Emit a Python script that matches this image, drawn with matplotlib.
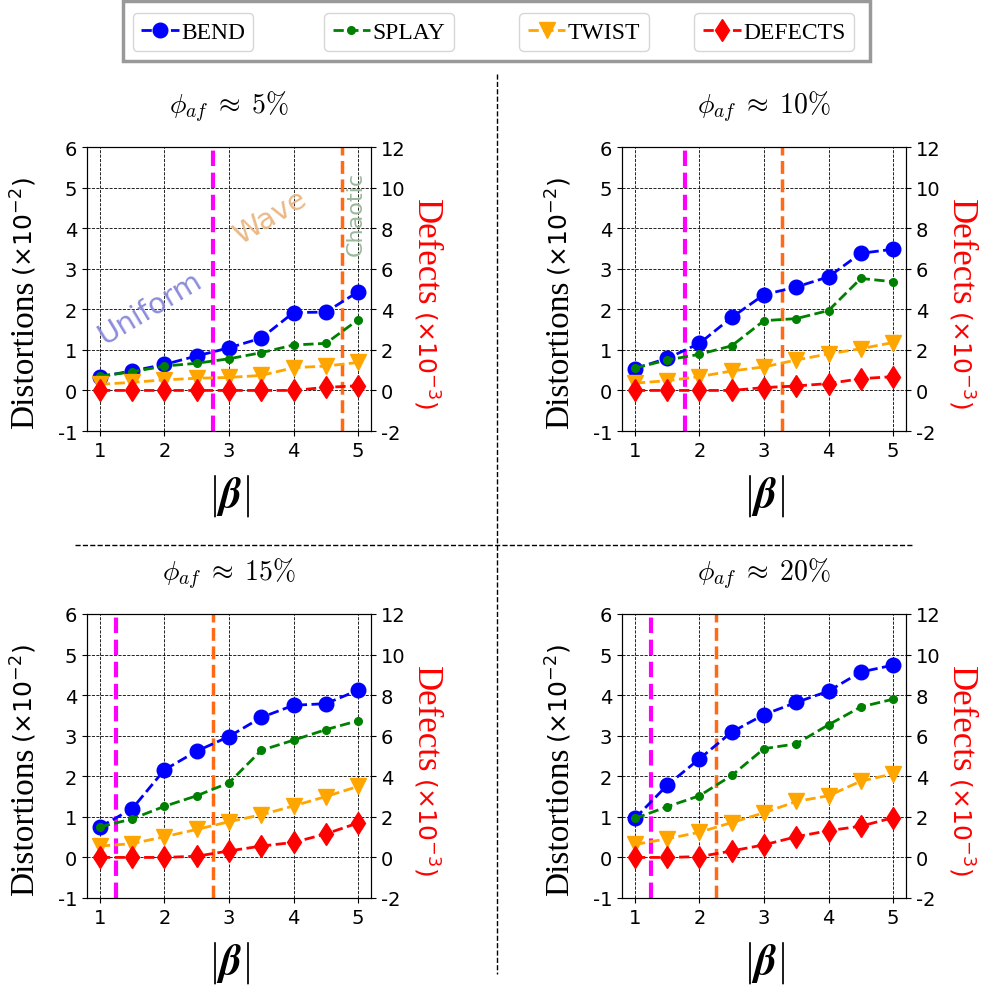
import matplotlib
matplotlib.use('Agg')
import matplotlib.pyplot as plt
from matplotlib.lines import Line2D
from matplotlib.patches import Rectangle

# |beta| values
beta = [1, 1.5, 2, 2.5, 3, 3.5, 4, 4.5, 5]

titles = [r'$\phi_{af}\;\approx\;5\%$', r'$\phi_{af}\;\approx\;10\%$',
          r'$\phi_{af}\;\approx\;15\%$', r'$\phi_{af}\;\approx\;20\%$']

# distortions (x10^-2)
bend = [
    [0.34, 0.48, 0.64, 0.85, 1.05, 1.29, 1.92, 1.93, 2.43],
    [0.54, 0.79, 1.16, 1.80, 2.36, 2.55, 2.80, 3.38, 3.48],
    [0.75, 1.20, 2.16, 2.62, 2.98, 3.45, 3.75, 3.79, 4.12],
    [0.96, 1.78, 2.43, 3.09, 3.52, 3.82, 4.10, 4.57, 4.74],
]
splay = [
    [0.35, 0.46, 0.60, 0.67, 0.78, 0.93, 1.12, 1.16, 1.74],
    [0.55, 0.75, 0.89, 1.10, 1.72, 1.77, 1.97, 2.76, 2.68],
    [0.75, 0.95, 1.26, 1.52, 1.84, 2.64, 2.89, 3.15, 3.37],
    [0.96, 1.25, 1.52, 2.02, 2.68, 2.80, 3.27, 3.71, 3.90],
]
twist = [
    [0.15, 0.20, 0.26, 0.30, 0.32, 0.37, 0.56, 0.60, 0.69],
    [0.18, 0.24, 0.34, 0.48, 0.58, 0.75, 0.90, 1.03, 1.18],
    [0.28, 0.34, 0.51, 0.69, 0.88, 1.05, 1.27, 1.50, 1.75],
    [0.32, 0.46, 0.62, 0.86, 1.10, 1.38, 1.52, 1.88, 2.06],
]
# defects (x10^-3), right axis
defects = [
    [0, 0, 0, 0, 0, 0, 0, 0.15, 0.23],
    [0, 0, 0, 0, 0.14, 0.22, 0.34, 0.58, 0.68],
    [0, 0, 0, 0.06, 0.32, 0.56, 0.74, 1.16, 1.70],
    [0, 0, 0.04, 0.32, 0.62, 1.02, 1.32, 1.54, 1.96],
]

# regime boundaries
uniform_wave = [2.75, 1.78, 1.25, 1.25]
wave_chaotic = [4.75, 3.28, 2.75, 2.25]

W, H = 982, 987
fig = plt.figure(figsize=(W / 100, H / 100), dpi=100)

serif = 'Liberation Serif'
aw, ah = 284 / W, 284 / H
positions = [(87 / W, 1 - 432 / H), (622 / W, 1 - 432 / H),
             (87 / W, 1 - 899 / H), (622 / W, 1 - 899 / H)]

label_pairs = []
for i, (x0, y0) in enumerate(positions):
    ax = fig.add_axes([x0, y0, aw, ah])
    ax.set_axisbelow(True)
    ax.grid(True, linestyle='--', color='k', linewidth=0.6)
    ax.plot(beta, bend[i], '--o', color='blue', ms=10.5, lw=2, zorder=3)
    ax.plot(beta, splay[i], '--o', color='green', ms=5.5, lw=2, zorder=3)
    ax.plot(beta, twist[i], '--v', color='orange', ms=11, lw=2, zorder=3)
    ax.axvline(uniform_wave[i], color='magenta', ls='--', lw=3, zorder=2)
    ax.axvline(wave_chaotic[i], color='#ff6a13', ls='--', lw=2.5, zorder=2)
    ax.set_xlim(0.8, 5.2)
    ax.set_ylim(-1, 6)
    ax.set_xticks([1, 2, 3, 4, 5])
    ax.set_yticks(range(-1, 7))
    ax.set_yticklabels([str(v) for v in range(-1, 7)])
    ax.tick_params(labelsize=14)
    ax.set_title(titles[i], fontsize=20, pad=24, math_fontfamily='cm')
    ax.set_xlabel(r'$|\boldsymbol{\beta}|$', fontsize=31, math_fontfamily='cm',
                  labelpad=9)

    # left label: serif word + sans exponent part, sharing a baseline
    l1 = ax.text(-0.19, 0.012, 'Distortions', rotation=90, rotation_mode='anchor',
                 ha='left', va='baseline', transform=ax.transAxes,
                 family=serif, fontsize=24)
    l2 = ax.text(-0.19, 0.6, r'$(\times10^{-2})$', rotation=90,
                 rotation_mode='anchor', ha='left', va='baseline',
                 transform=ax.transAxes, fontsize=18)

    ax2 = ax.twinx()
    ax2.plot(beta, defects[i], '--d', color='red', ms=11.5, lw=2, zorder=3)
    ax2.set_ylim(-2, 12)
    ax2.set_yticks(range(-2, 13, 2))
    ax2.set_yticklabels([str(v) for v in range(-2, 13, 2)])
    ax2.tick_params(labelsize=14)

    r1 = ax.text(1.163, 0.82, 'Defects', rotation=270, rotation_mode='anchor',
                 ha='left', va='baseline', transform=ax.transAxes,
                 family=serif, fontsize=25, color='red')
    r2 = ax.text(1.163, 0.4, r'$(\times10^{-3})$', rotation=270,
                 rotation_mode='anchor', ha='left', va='baseline',
                 transform=ax.transAxes, fontsize=18, color='red')
    label_pairs.append((ax, l1, l2, r1, r2))

    if i == 0:
        ax.text(1.77, 2.06, 'Uniform', color='#8c8cdc', fontsize=21,
                rotation=31, ha='center', va='center')
        ax.text(3.64, 4.28, 'Wave', color='#eab987', fontsize=21,
                rotation=31, ha='center', va='center')
        ax.text(4.97, 4.37, 'Chaotic', color='#9bb89b', fontsize=16,
                rotation=90, ha='center', va='center')

# separators
fig.add_artist(Line2D([75 / W, 912 / W], [1 - 546 / H, 1 - 546 / H],
                      color='k', ls='--', lw=1, transform=fig.transFigure))
fig.add_artist(Line2D([497 / W, 497 / W], [1 - 75 / H, 1 - 975 / H],
                      color='k', ls='--', lw=1, transform=fig.transFigure))

# legend: outer frame with four boxed entries
fig.add_artist(Rectangle((123 / W, 1 - 62 / H), 747 / W, 60 / H,
                         transform=fig.transFigure, fill=False,
                         edgecolor='#999999', lw=2.5))
entries = [('BEND', 'blue', 'o', 10.5), ('SPLAY', 'green', 'o', 5.5),
           ('TWIST', 'orange', 'v', 11), ('DEFECTS', 'red', 'd', 11.5)]
centers = [193, 389, 584, 774]
for (lab, col, mk, ms), cx in zip(entries, centers):
    h = Line2D([], [], color=col, ls='--', marker=mk, ms=ms, lw=2)
    fig.legend([h], [lab], loc='center', bbox_to_anchor=(cx / W, 1 - 33 / H),
               prop={'family': serif, 'size': 17}, handlelength=1.6,
               handletextpad=0.1, borderpad=0.35, fancybox=True)

# chain the exponent part right after the word
fig.canvas.draw()
renderer = fig.canvas.get_renderer()
gap = 4
for ax, l1, l2, r1, r2 in label_pairs:
    inv = ax.transAxes.inverted()
    bb = l1.get_window_extent(renderer)
    l2.set_y(inv.transform((0, bb.y1 + gap))[1])
    bb = r1.get_window_extent(renderer)
    r2.set_y(inv.transform((0, bb.y0 - gap))[1])

fig.savefig('out.png', dpi=100)
